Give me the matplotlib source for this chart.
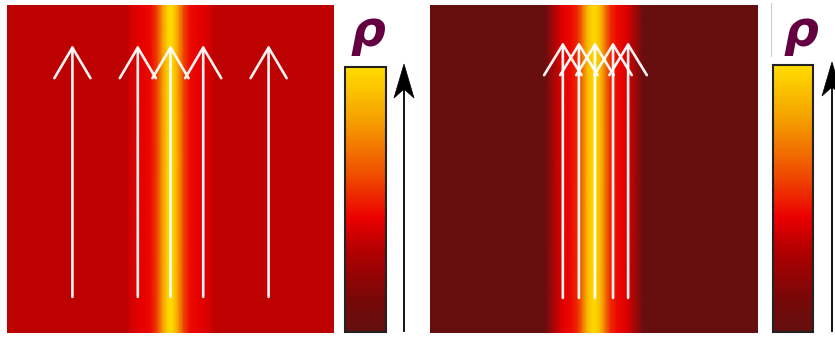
import numpy as np
import matplotlib
matplotlib.use('Agg')
import matplotlib.pyplot as plt
from matplotlib.colors import LinearSegmentedColormap
from matplotlib.patches import Polygon

# colormap stops
cmap_pos = [0.0, 0.12, 0.3, 0.43, 0.6, 0.8, 1.0]
cmap_cols = ['#640f0f', '#780808', '#b00000', '#eb0000', '#f05000', '#f5a000', '#ffdc00']

# density profile across x (normalised box width), left panel
x_left = [0.0, 0.365, 0.38, 0.41, 0.44, 0.46, 0.475, 0.49, 0.5,
          0.51, 0.525, 0.54, 0.56, 0.59, 0.62, 0.635, 1.0]
rho_left = [0.33, 0.33, 0.38, 0.42, 0.45, 0.58, 0.78, 0.95, 1.0,
            0.95, 0.78, 0.58, 0.45, 0.42, 0.38, 0.33, 0.33]

# right panel
x_right = [0.0, 0.35, 0.40, 0.43, 0.45, 0.465, 0.48, 0.5,
           0.52, 0.535, 0.55, 0.57, 0.60, 0.65, 1.0]
rho_right = [0.02, 0.02, 0.40, 0.45, 0.52, 0.68, 0.88, 1.0,
             0.88, 0.68, 0.52, 0.45, 0.40, 0.02, 0.02]

# velocity arrows (x positions, start and tip heights)
arr_x_left = [0.2, 0.4, 0.5, 0.6, 0.8]
arr_x_right = [0.405, 0.454, 0.503, 0.558, 0.604]
arr_y0_left, arr_y1_left = 0.11, 0.878
arr_y0_right, arr_y1_right = 0.107, 0.887

cmap = LinearSegmentedColormap.from_list('rho', list(zip(cmap_pos, cmap_cols)))

W, H = 835, 342
fig = plt.figure(figsize=(W / 100, H / 100), dpi=100)
fig.patch.set_facecolor('white')


def fx(px):
    return px / W


def fy(py):
    return 1 - py / H


def panel(x0, x1, xs, rho, ax_x, y0, y1, hw, hl):
    ax = fig.add_axes([fx(x0), fy(333), fx(x1 - x0), (333 - 5) / H])
    prof = np.array([rho, rho])
    mesh = ax.pcolormesh(xs, [0, 1], prof, cmap=cmap, vmin=0, vmax=1, shading='gouraud')
    for xa in ax_x:
        ax.annotate('', xy=(xa, y1), xytext=(xa, y0),
                    arrowprops=dict(arrowstyle=f'->,head_length={hl},head_width={hw}',
                                    color='white', lw=1.9, shrinkA=0, shrinkB=0,
                                    alpha=0.95))
    ax.set_xlim(0, 1)
    ax.set_ylim(0, 1)
    ax.axis('off')
    return mesh


def colorbar(mesh, x0, x1, ytop, arrow_x, arrow_top, rho_x):
    cax = fig.add_axes([fx(x0), fy(332), fx(x1 - x0), (332 - ytop) / H])
    cb = fig.colorbar(mesh, cax=cax)
    cb.set_ticks([])
    cb.outline.set_linewidth(1.5)
    cb.outline.set_edgecolor('#222222')
    # shaft
    fig.add_artist(plt.Line2D([fx(arrow_x), fx(arrow_x)], [fy(331), fy(arrow_top + 25)],
                              transform=fig.transFigure, color='black', lw=1.3))
    # notched head
    head = [(fx(arrow_x), fy(arrow_top)),
            (fx(arrow_x - 10), fy(arrow_top + 34)),
            (fx(arrow_x), fy(arrow_top + 25)),
            (fx(arrow_x + 10), fy(arrow_top + 34))]
    fig.add_artist(Polygon(head, closed=True, transform=fig.transFigure,
                           facecolor='black', edgecolor='black', lw=0.5))
    fig.text(fx(rho_x), fy(32), 'ρ', color='#640040', fontsize=35,
             fontstyle='italic', fontweight='bold', ha='center', va='center')


m1 = panel(7, 334, x_left, rho_left, arr_x_left, arr_y0_left, arr_y1_left, 1.3, 2.2)
colorbar(m1, 345, 386, 67, 404, 64, 368)

m2 = panel(430, 758, x_right, rho_right, arr_x_right, arr_y0_right, arr_y1_right, 1.35, 2.2)
colorbar(m2, 773, 813, 65, 832, 62, 801)

# faint frame line left of the right colour bar
fig.add_artist(plt.Line2D([fx(771), fx(771)], [fy(3), fy(56)],
                          transform=fig.transFigure, color='#cccccc', lw=0.8))

fig.savefig('out.png', dpi=100)
